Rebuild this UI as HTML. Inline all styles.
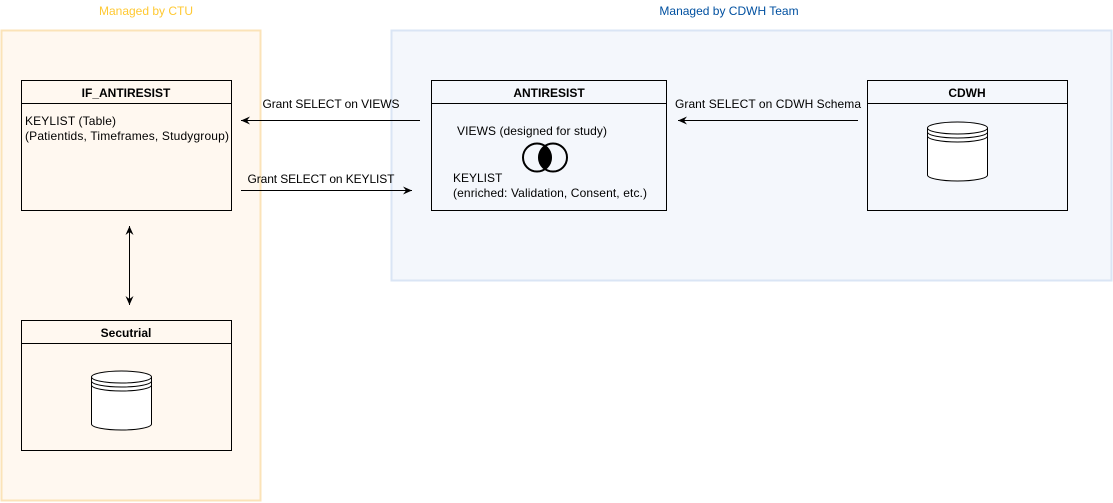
<!DOCTYPE html>
<html><head><meta charset="utf-8"><style>
html,body{margin:0;padding:0;background:#fff;}
svg{display:block;font-family:"Liberation Sans",Arial,sans-serif;}
</style></head><body>
<svg width="1113" height="503" viewBox="0 0 1113 503" xmlns="http://www.w3.org/2000/svg">
<defs>
<marker id="ah" markerWidth="10" markerHeight="10" refX="9" refY="5" orient="auto" markerUnits="userSpaceOnUse">
<path d="M0,1 L9,5 L0,9 L3,5 Z" fill="#000"/>
</marker>
<marker id="ahs" markerWidth="10" markerHeight="10" refX="1" refY="5" orient="auto" markerUnits="userSpaceOnUse">
<path d="M10,1 L1,5 L10,9 L7,5 Z" fill="#000"/>
</marker>
</defs>
<rect x="1.5" y="30.5" width="259" height="470" fill="#fff8f0" stroke="#fbe3b8" stroke-width="2"/>
<text x="146" y="15" font-size="12" fill="#ffc933" text-anchor="middle">Managed by CTU</text>
<rect x="391.5" y="30.5" width="720" height="250" fill="#f4f7fc" stroke="#dae5f5" stroke-width="2"/>
<text x="729" y="15" font-size="12" fill="#0050a0" text-anchor="middle">Managed by CDWH Team</text>

<rect x="21.5" y="80.5" width="210" height="130" fill="none" stroke="#000"/>
<line x1="21.5" y1="103.5" x2="231.5" y2="103.5" stroke="#000"/>
<text x="126" y="97" font-size="12" font-weight="bold" text-anchor="middle">IF_ANTIRESIST</text>
<text x="25" y="125" font-size="12" textLength="91">KEYLIST (Table)</text>
<text x="25" y="140" font-size="12" textLength="204">(Patientids, Timeframes, Studygroup)</text>

<rect x="21.5" y="320.5" width="210" height="130" fill="none" stroke="#000"/>
<line x1="21.5" y1="343.5" x2="231.5" y2="343.5" stroke="#000"/>
<text x="126" y="337" font-size="12" font-weight="bold" text-anchor="middle">Secutrial</text>
<g fill="#fff" stroke="#000">
<path d="M91.5,377 A30,6 0 0 1 151.5,377 L151.5,424 A30,6 0 0 1 91.5,424 Z"/>
<path d="M91.5,377 A30,6 0 0 0 151.5,377 M91.5,381 A30,6 0 0 0 151.5,381 M91.5,385 A30,6 0 0 0 151.5,385" fill="none"/>
</g>

<rect x="431.5" y="80.5" width="235" height="130" fill="none" stroke="#000"/>
<line x1="431.5" y1="103.5" x2="666.5" y2="103.5" stroke="#000"/>
<text x="549" y="97" font-size="12" font-weight="bold" text-anchor="middle">ANTIRESIST</text>
<text x="457" y="135" font-size="12" textLength="150">VIEWS (designed for study)</text>
<path d="M545,145.5 A14,14 0 0 1 545,169.5 A14,14 0 0 1 545,145.5 Z" fill="#000"/>
<circle cx="537" cy="157.5" r="14" fill="none" stroke="#000" stroke-width="2"/>
<circle cx="553" cy="157.5" r="14" fill="none" stroke="#000" stroke-width="2"/>
<text x="453" y="182" font-size="12">KEYLIST</text>
<text x="453" y="197" font-size="12" textLength="194">(enriched: Validation, Consent, etc.)</text>

<rect x="867.5" y="80.5" width="200" height="130" fill="none" stroke="#000"/>
<line x1="867.5" y1="103.5" x2="1067.5" y2="103.5" stroke="#000"/>
<text x="967" y="97" font-size="12" font-weight="bold" text-anchor="middle">CDWH</text>
<g fill="#fff" stroke="#000">
<path d="M927.5,128 A30,6 0 0 1 987.5,128 L987.5,175 A30,6 0 0 1 927.5,175 Z"/>
<path d="M927.5,128 A30,6 0 0 0 987.5,128 M927.5,132 A30,6 0 0 0 987.5,132 M927.5,136 A30,6 0 0 0 987.5,136" fill="none"/>
</g>

<line x1="420" y1="120.5" x2="241" y2="120.5" stroke="#000" marker-end="url(#ah)"/>
<text x="331" y="108" font-size="12" text-anchor="middle" textLength="137">Grant SELECT on VIEWS</text>
<line x1="241" y1="190.5" x2="412" y2="190.5" stroke="#000" marker-end="url(#ah)"/>
<text x="321" y="183" font-size="12" text-anchor="middle" textLength="147">Grant SELECT on KEYLIST</text>
<line x1="858" y1="120.5" x2="678" y2="120.5" stroke="#000" marker-end="url(#ah)"/>
<text x="768" y="108" font-size="12" text-anchor="middle" textLength="186">Grant SELECT on CDWH Schema</text>
<line x1="129.5" y1="226" x2="129.5" y2="305" stroke="#000" marker-start="url(#ahs)" marker-end="url(#ah)"/>
</svg>
</body></html>
